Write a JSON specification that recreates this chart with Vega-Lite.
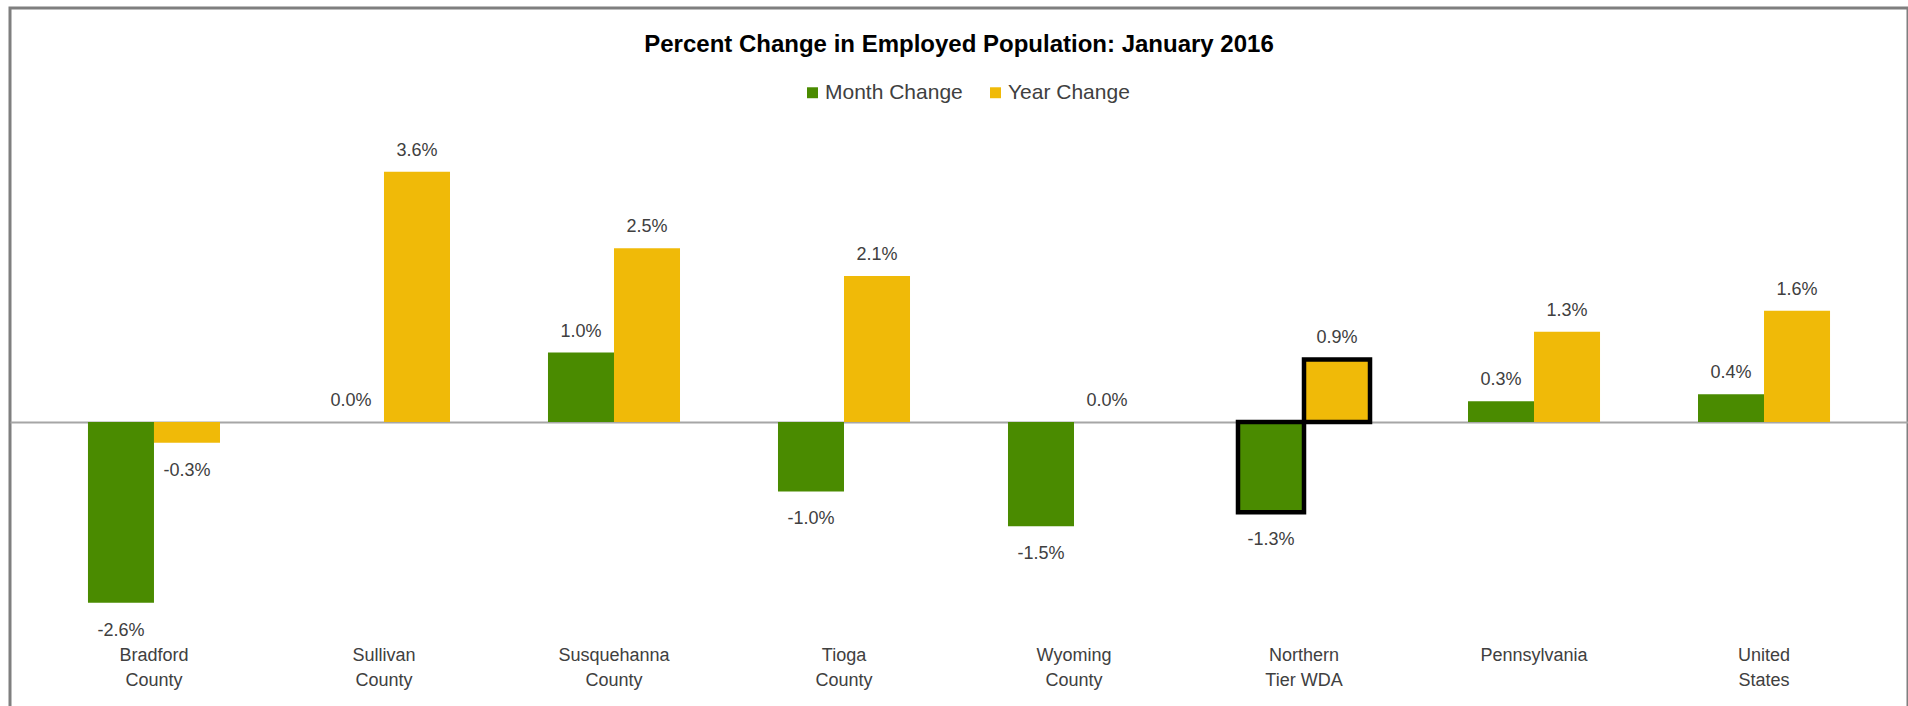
{
  "$schema": "https://vega.github.io/schema/vega-lite/v6.json",
  "width": 1908,
  "height": 706,
  "autosize": {"type": "fit", "contains": "padding"},
  "padding": {"left": 10, "top": 8, "right": 0, "bottom": -4},
  "background": "white",
  "config": {
    "view": {"stroke": "#7f7f7f", "strokeWidth": 3, "fill": "white"},
    "font": "Liberation Sans",
    "locale": {"number": {"decimal": ".", "thousands": ",", "grouping": [3], "currency": ["$", ""], "minus": "-"}}
  },
  "title": {
    "text": "Percent Change in Employed Population: January 2016",
    "anchor": "middle",
    "frame": "group",
    "orient": "top",
    "offset": -61,
    "baseline": "middle",
    "fontSize": 24,
    "fontWeight": "bold",
    "color": "black",
    "font": "Liberation Sans"
  },
  "data": {
    "values": [
      {"region": "Bradford County", "series": "Month Change", "value": -0.026},
      {"region": "Bradford County", "series": "Year Change", "value": -0.003},
      {"region": "Sullivan County", "series": "Month Change", "value": 0.0},
      {"region": "Sullivan County", "series": "Year Change", "value": 0.036},
      {"region": "Susquehanna County", "series": "Month Change", "value": 0.010},
      {"region": "Susquehanna County", "series": "Year Change", "value": 0.025},
      {"region": "Tioga County", "series": "Month Change", "value": -0.010},
      {"region": "Tioga County", "series": "Year Change", "value": 0.021},
      {"region": "Wyoming County", "series": "Month Change", "value": -0.015},
      {"region": "Wyoming County", "series": "Year Change", "value": 0.0},
      {"region": "Northern Tier WDA", "series": "Month Change", "value": -0.013},
      {"region": "Northern Tier WDA", "series": "Year Change", "value": 0.009},
      {"region": "Pennsylvania", "series": "Month Change", "value": 0.003},
      {"region": "Pennsylvania", "series": "Year Change", "value": 0.013},
      {"region": "United States", "series": "Month Change", "value": 0.004},
      {"region": "United States", "series": "Year Change", "value": 0.016}
    ]
  },
  "encoding": {
    "x": {
      "field": "region",
      "type": "nominal",
      "title": null,
      "sort": null,
      "scale": {
        "paddingInner": 0.426,
        "paddingOuter": 0.339
      },
      "axis": {
        "orient": "bottom",
        "offset": -72,
        "domain": false,
        "ticks": false,
        "grid": false,
        "labelAngle": 0,
        "labelFontSize": 18,
        "labelColor": "#404040",
        "labelLineHeight": 25,
        "labelPadding": 8,
        "labelBaseline": "top",
        "labelOverlap": false,
        "labelExpr": "datum.label == 'Pennsylvania' ? 'Pennsylvania' : datum.label == 'Northern Tier WDA' ? ['Northern', 'Tier WDA'] : split(datum.label, ' ')"
      }
    },
    "xOffset": {
      "field": "series",
      "type": "nominal",
      "sort": null,
      "scale": {"paddingInner": 0, "paddingOuter": 0}
    },
    "y": {
      "field": "value",
      "type": "quantitative",
      "scale": {"domain": [-0.04144, 0.05957], "nice": false, "zero": false},
      "axis": {
        "values": [0],
        "grid": true,
        "gridColor": "#a6a6a6",
        "gridWidth": 2,
        "labels": false,
        "ticks": false,
        "domain": false,
        "title": null
      }
    }
  },
  "layer": [
    {
      "mark": {"type": "bar", "stroke": "black", "strokeJoin": "miter"},
      "encoding": {
        "color": {
          "field": "series",
          "type": "nominal",
          "sort": null,
          "scale": {"range": ["#4a8b00", "#f0ba08"]},
          "legend": {
            "title": null,
            "orient": "none",
            "legendX": 792,
            "legendY": 74,
            "direction": "horizontal",
            "symbolType": "square",
            "symbolSize": 120,
            "symbolStrokeWidth": 0,
            "labelFontSize": 21,
            "labelColor": "#404040",
            "columnPadding": 22,
            "labelOffset": 2
          }
        },
        "strokeWidth": {
          "condition": {"test": "datum.region === 'Northern Tier WDA'", "value": 4.5},
          "value": 0
        }
      }
    },
    {
      "transform": [{"filter": "datum.value >= 0"}],
      "mark": {"type": "text", "dy": -21, "fontSize": 18, "color": "#404040", "baseline": "middle"},
      "encoding": {
        "text": {"field": "value", "type": "quantitative", "format": ".1%"}
      }
    },
    {
      "transform": [{"filter": "datum.value < 0"}],
      "mark": {"type": "text", "dy": 28, "fontSize": 18, "color": "#404040", "baseline": "middle"},
      "encoding": {
        "text": {"field": "value", "type": "quantitative", "format": ".1%"}
      }
    }
  ]
}
